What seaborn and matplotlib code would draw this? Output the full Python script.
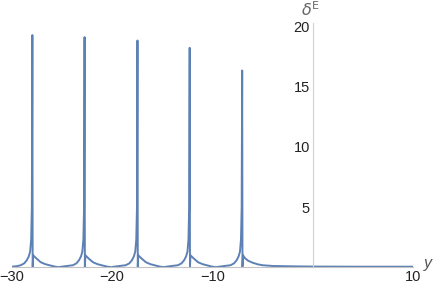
import seaborn as sns
import numpy as np
import matplotlib.pyplot as plt
import pandas as pd
from matplotlib.ticker import MultipleLocator

# values
y_pos = [
    -30.0, -29.5, -29.1, -28.75, -28.5, -28.3, -28.16, -28.06, -27.99, -27.94,
    -27.91, -27.86, -27.65, -27.35, -27.1, -26.65, -26.15, -25.7, -25.34,
    -24.95, -24.4, -23.9, -23.55, -23.3, -23.1, -22.96, -22.86, -22.79, -22.74,
    -22.71, -22.66, -22.45, -22.15, -21.9, -21.45, -20.95, -20.5, -20.1,
    -19.7, -19.15, -18.65, -18.28, -18.03, -17.83, -17.69, -17.59, -17.52, -17.47,
    -17.44, -17.39, -17.18, -16.88, -16.63, -16.18, -15.68, -15.25, -14.87,
    -14.5, -13.95, -13.45, -13.08, -12.83, -12.63, -12.49, -12.39, -12.32, -12.27,
    -12.24, -12.19, -11.98, -11.68, -11.43, -10.98, -10.48, -10.05, -9.65,
    -9.25, -8.7, -8.2, -7.85, -7.6, -7.4, -7.26, -7.16, -7.09, -7.04,
    -7.01, -6.96, -6.75, -6.45, -6.0, -5.5, -5.0, -4.0, -2.0, 0.0, 5.0, 10.0,
]
delta_e = [
    0.05, 0.09, 0.17, 0.33, 0.58, 0.9, 1.3, 2.3, 5.0, 19.3,
    0.05, 1.0, 0.82, 0.6, 0.42, 0.26, 0.15, 0.06, 0.01,
    0.06, 0.12, 0.17, 0.33, 0.58, 0.9, 1.3, 2.3, 5.0, 19.13,
    0.05, 1.0, 0.82, 0.6, 0.42, 0.26, 0.15, 0.06, 0.01,
    0.06, 0.12, 0.17, 0.33, 0.58, 0.9, 1.3, 2.3, 5.0, 18.85,
    0.05, 1.0, 0.82, 0.6, 0.42, 0.26, 0.15, 0.06, 0.01,
    0.06, 0.12, 0.17, 0.33, 0.58, 0.9, 1.3, 2.3, 5.0, 18.24,
    0.05, 1.0, 0.82, 0.6, 0.42, 0.26, 0.15, 0.06, 0.01,
    0.06, 0.12, 0.17, 0.33, 0.58, 0.9, 1.3, 2.3, 5.0, 16.36,
    0.05, 1.0, 0.75, 0.55, 0.38, 0.25, 0.17, 0.11, 0.08, 0.06, 0.05, 0.05,
]
x_ticks = [-30, -20, -10, 10]
y_ticks = [5, 10, 15, 20]

sns.set_style("white")
plt.rcParams['font.family'] = ['Liberation Sans', 'DejaVu Sans']

df = pd.DataFrame({"y": y_pos, "dE": delta_e})

fig = plt.figure(figsize=(4.36, 2.86), dpi=100)
ax = fig.add_axes([0.0268, 0.0654, 0.921, 0.854])

sns.lineplot(data=df, x="y", y="dE", ax=ax, color="#5E81B5", lw=1.4,
             estimator=None, sort=False)

ax.set_xlim(-30, 10)
ax.set_ylim(0, 20.3)

axis_col = "#d2d2d2"
for s in ["top", "right"]:
    ax.spines[s].set_visible(False)
ax.spines["left"].set_position(("data", 0))
ax.spines["left"].set_color(axis_col)
ax.spines["bottom"].set_color("#c4c4c4")
ax.spines["left"].set_linewidth(0.8)
ax.spines["bottom"].set_linewidth(0.8)

ax.set_xticks(x_ticks)
ax.set_xticklabels(["\u221230", "\u221220", "\u221210", "10"])
ax.set_yticks(y_ticks)
ax.xaxis.set_minor_locator(MultipleLocator(2))
ax.yaxis.set_minor_locator(MultipleLocator(1))
ax.tick_params(axis="both", which="major", direction="in", length=4,
               color=axis_col, labelsize=10.5, labelcolor="#222222", pad=2)
ax.tick_params(axis="both", which="minor", direction="in", length=2,
               color=axis_col)
ax.set_xlabel("")
ax.set_ylabel("")

ax.text(11.1, 0.3, "y", style="italic", fontsize=11.5, color="#555555",
        ha="left", va="center", clip_on=False)
ax.text(-0.2, 21.4, r"$\delta^{\mathrm{E}}$", fontsize=11.5, color="#666666",
        ha="center", va="center", clip_on=False)

fig.savefig("out.png", dpi=100)
